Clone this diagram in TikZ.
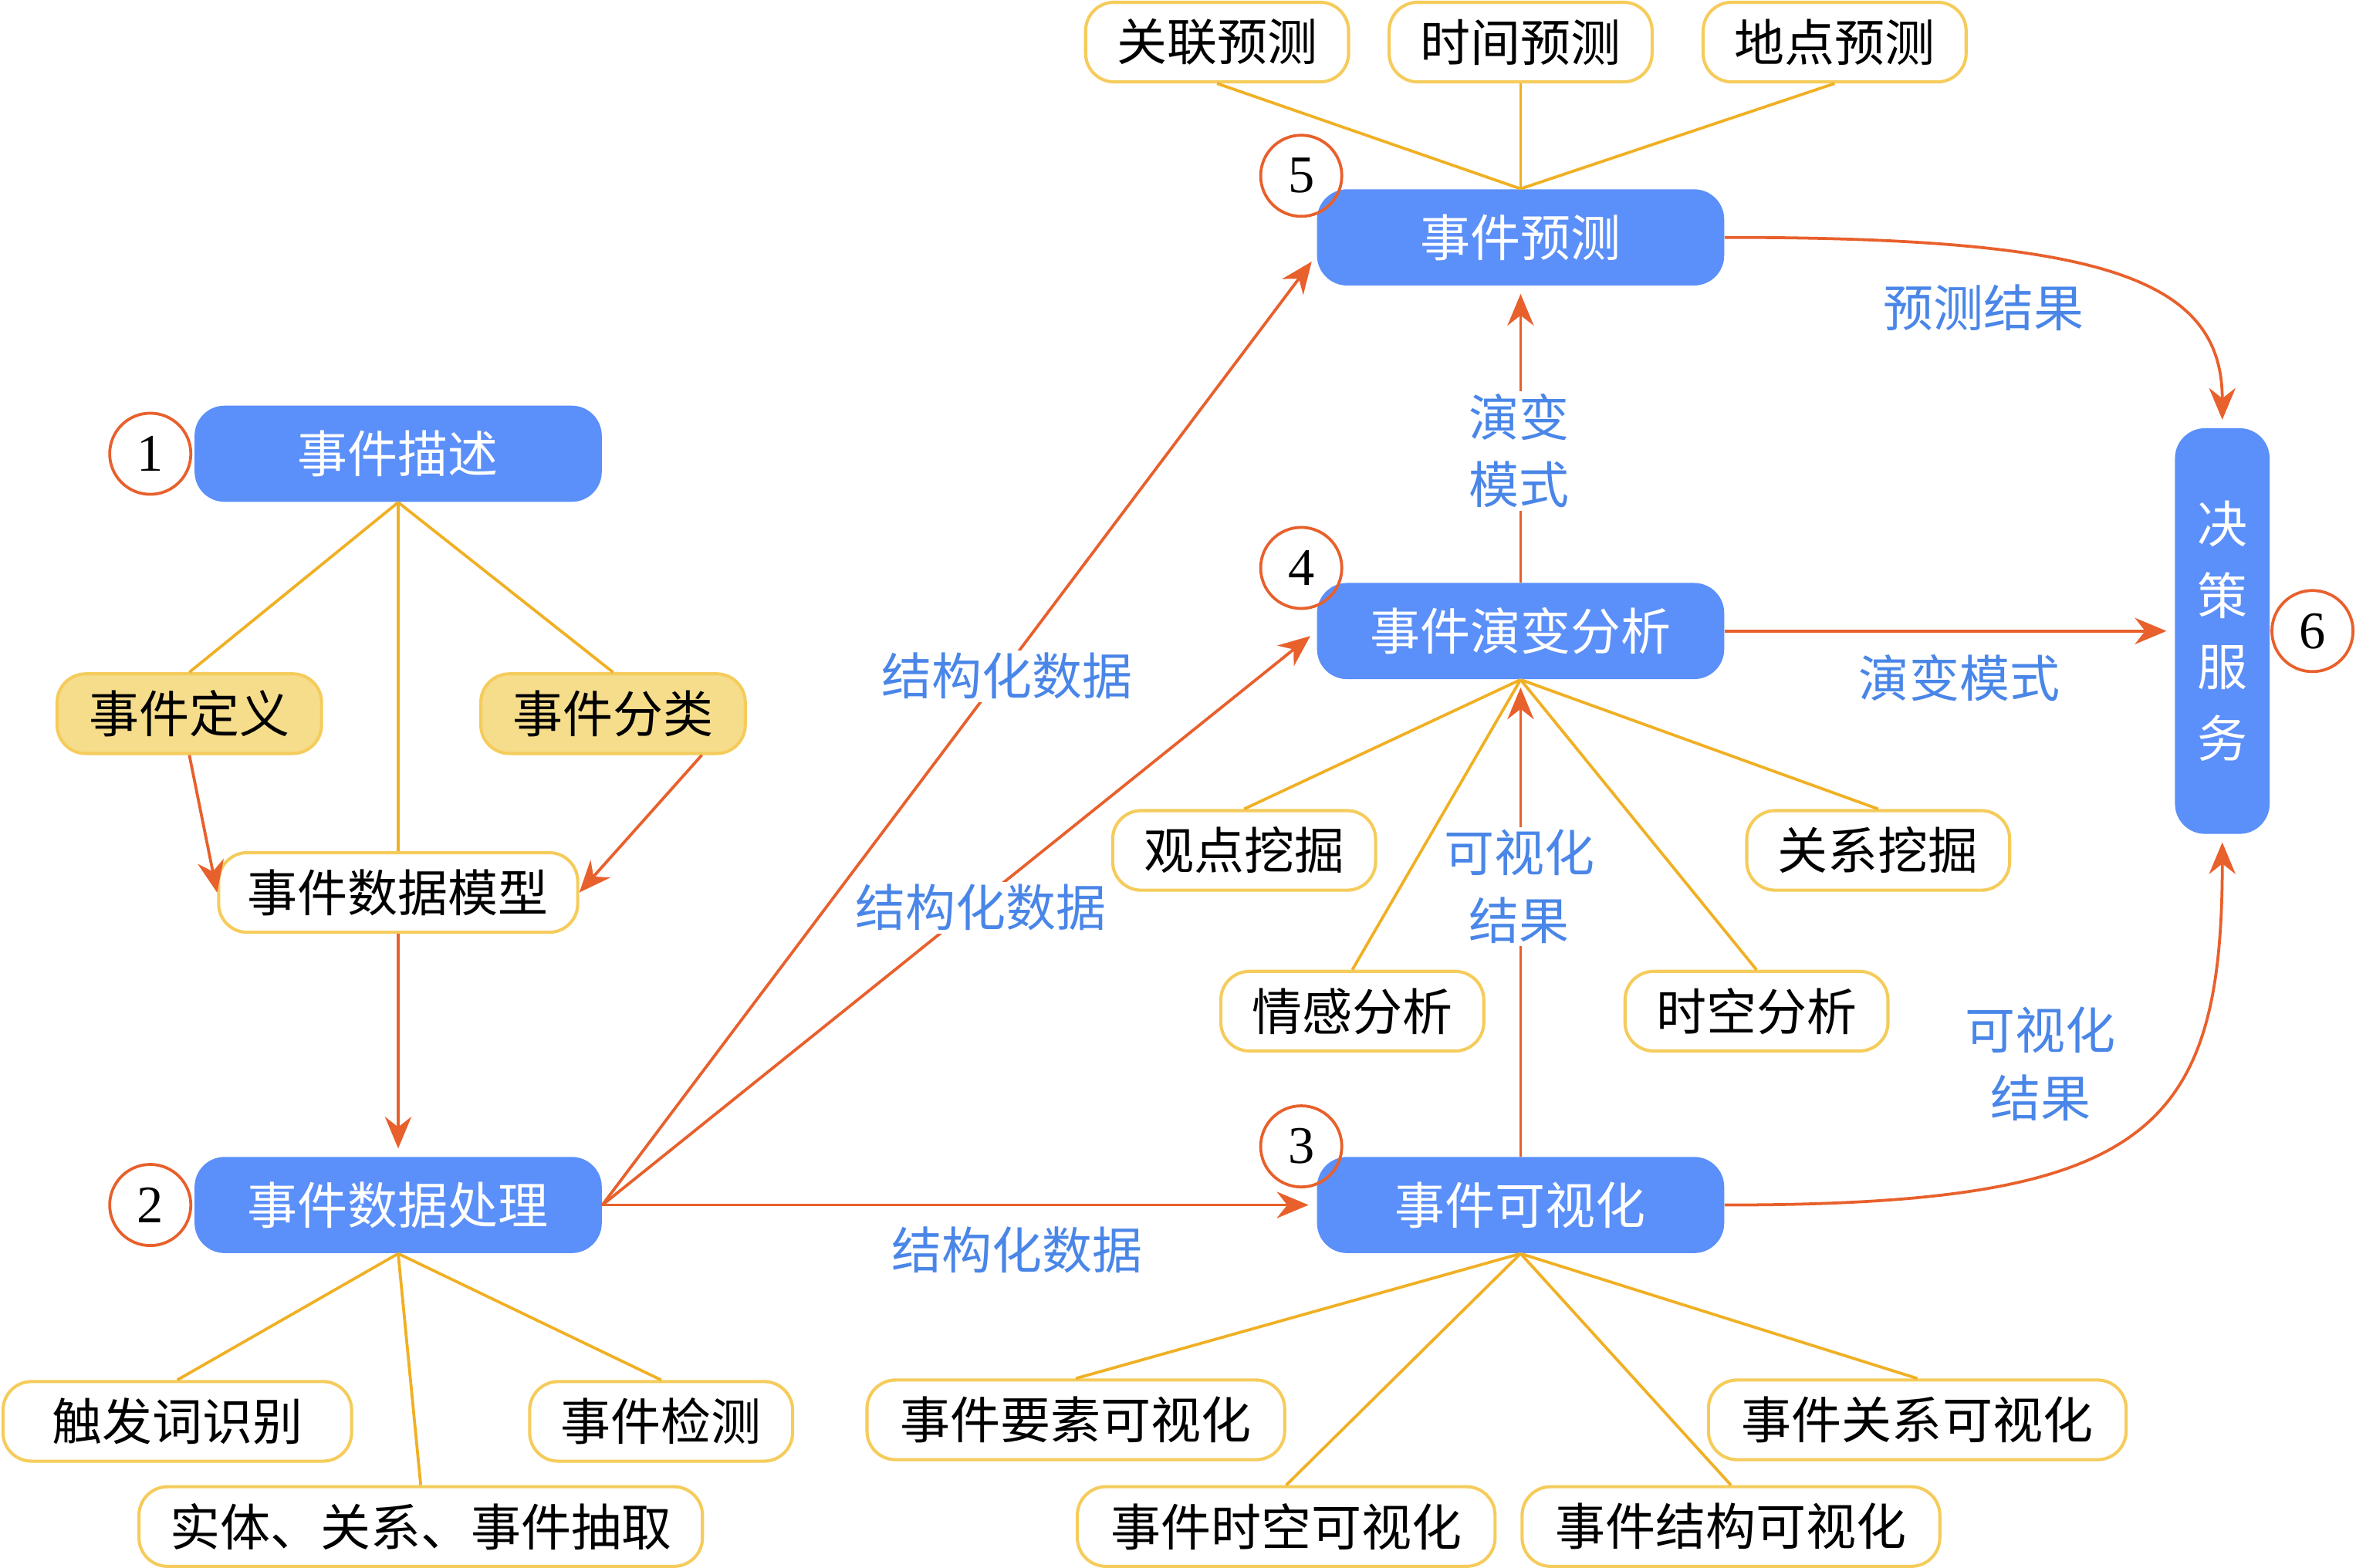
\documentclass[tikz,border=0pt]{standalone}
\usepackage{fontspec}
\setmainfont{Liberation Serif}
\newfontfamily\cjk{Noto Sans CJK SC}
\usepackage{tikz}
\usetikzlibrary{arrows.meta}
\definecolor{boxblue}{HTML}{5B8FF9}
\definecolor{txtblue}{HTML}{4A86E8}
\definecolor{arrred}{HTML}{E8602C}
\definecolor{linyel}{HTML}{F0B024}
\definecolor{boxyel}{HTML}{F5CC5C}
\definecolor{fillyel}{HTML}{F6DD8C}

\begin{document}
\begin{tikzpicture}[
  mainbox/.style={rounded corners=0.4cm, fill=boxblue, text=white, font=\cjk\fontsize{19}{26}\selectfont, minimum width=5.42cm, minimum height=1.28cm, inner sep=0},
  leafbox/.style={rounded corners=0.38cm, draw=boxyel, line width=1.2pt, fill=white, font=\cjk\fontsize{19}{26}\selectfont, minimum height=1.06cm, inner sep=0},
  keybox/.style={leafbox, fill=fillyel},
  numcirc/.style={circle, draw=arrred, line width=1.1pt, minimum size=1.08cm, inner sep=0, font=\fontsize{20}{24}\selectfont},
  flowlabel/.style={text=txtblue, fill=white, align=center, inner sep=1pt, font=\cjk\fontsize{19}{25.6}\selectfont},
  flowarrow/.style={draw=arrred, line width=1.1pt, -{Stealth[length=12pt,width=10pt]}, shorten >=3pt},
  branch/.style={draw=linyel, line width=1.1pt}
]
\useasboundingbox (0,0) rectangle (31.36,-20.87);

\node[mainbox] (desc) at (5.30,-6.04) {事件描述};
\node[keybox, minimum width=3.52cm] (def) at (2.52,-9.50) {事件定义}; \node[keybox, minimum width=3.52cm] (cls) at (8.16,-9.50) {事件分类};
\node[leafbox, minimum width=4.78cm] (model) at (5.30,-11.88) {事件数据模型};
\node[mainbox] (proc) at (5.30,-16.04) {事件数据处理};
\node[leafbox, minimum width=4.64cm] (trig) at (2.36,-18.92) {触发词识别}; \node[leafbox, minimum width=3.5cm] (det) at (8.80,-18.92) {事件检测};
\node[leafbox, minimum width=7.5cm] (ext) at (5.60,-20.32) {实体、关系、事件抽取};

\node[mainbox] (pred) at (20.24,-3.16) {事件预测};
\node[leafbox, minimum width=3.5cm] (passoc) at (16.20,-0.56) {关联预测}; \node[leafbox, minimum width=3.5cm] (ptime) at (20.24,-0.56) {时间预测}; \node[leafbox, minimum width=3.5cm] (pplace) at (24.42,-0.56) {地点预测};
\node[mainbox] (evo) at (20.24,-8.40) {事件演变分析};
\node[leafbox, minimum width=3.5cm] (opin) at (16.56,-11.32) {观点挖掘}; \node[leafbox, minimum width=3.5cm] (relm) at (25.00,-11.32) {关系挖掘};
\node[leafbox, minimum width=3.5cm] (senti) at (18.00,-13.46) {情感分析}; \node[leafbox, minimum width=3.5cm] (stan) at (23.38,-13.46) {时空分析};
\node[mainbox] (vis) at (20.24,-16.04) {事件可视化};
\node[leafbox, minimum width=5.56cm] (velem) at (14.32,-18.90) {事件要素可视化}; \node[leafbox, minimum width=5.56cm] (vrel) at (25.52,-18.90) {事件关系可视化};
\node[leafbox, minimum width=5.56cm] (vst) at (17.12,-20.32) {事件时空可视化}; \node[leafbox, minimum width=5.56cm] (vstruct) at (23.04,-20.32) {事件结构可视化};
\node[mainbox, minimum width=1.26cm, minimum height=5.4cm, align=center, font=\cjk\fontsize{19}{27}\selectfont] (dec) at (29.58,-8.40) {\raisebox{-0.2cm}{}决\\策\\服\\务};

\draw[flowarrow, shorten >=0pt] (def.south) -- (model.west); \draw[flowarrow, shorten >=0pt] (cls.-25) -- (model.east);
\draw[flowarrow] (model.south) -- (proc.north);
\draw[flowarrow] (proc.east) -- (pred.185); \draw[flowarrow] (proc.east) -- (evo.west); \draw[flowarrow] (proc.east) -- (vis.west);
\draw[flowarrow] (vis.north) -- (evo.south); \draw[flowarrow] (evo.north) -- (pred.south);
\draw[flowarrow] (evo.east) -- (dec.west);
\draw[flowarrow] (pred.east) .. controls +(5,0) and +(0,2) .. (dec.north);
\draw[flowarrow] (vis.east) .. controls +(5.6,0) and +(0,-4) .. (dec.south);

\node[flowlabel] (sdata1) at (13.40,-9.00) {结构化数据}; \node[flowlabel] (sdata2) at (13.06,-12.08) {结构化数据}; \node[flowlabel] (sdata3) at (13.54,-16.64) {结构化数据};
\node[flowlabel] (presult) at (26.40,-4.10) {预测结果}; \node[flowlabel] (epat1) at (26.08,-9.02) {演变模式};
\node[flowlabel] (epat2) at (20.22,-6.00) {演变\\模式};
\node[flowlabel] (vresult1) at (20.22,-11.80) {可视化\\结果}; \node[flowlabel] (vresult2) at (27.16,-14.16) {可视化\\结果};

\draw[branch] (desc.south) -- (def.north); \draw[branch] (desc.south) -- (cls.north); \draw[branch] (desc.south) -- (model.north);
\draw[branch] (proc.south) -- (trig.north); \draw[branch] (proc.south) -- (ext.north); \draw[branch] (proc.south) -- (det.north);
\draw[branch] (pred.north) -- (passoc.south); \draw[branch] (pred.north) -- (ptime.south); \draw[branch] (pred.north) -- (pplace.south);
\draw[branch] (evo.south) -- (opin.north); \draw[branch] (evo.south) -- (senti.north); \draw[branch] (evo.south) -- (stan.north); \draw[branch] (evo.south) -- (relm.north);
\draw[branch] (vis.south) -- (velem.north); \draw[branch] (vis.south) -- (vst.north); \draw[branch] (vis.south) -- (vstruct.north); \draw[branch] (vis.south) -- (vrel.north);

\node[numcirc] (n1) at (2.00,-6.04) {1}; \node[numcirc] (n2) at (2.00,-16.04) {2};
\node[numcirc] (n3) at (17.32,-15.26) {3}; \node[numcirc] (n4) at (17.32,-7.56) {4}; \node[numcirc] (n5) at (17.32,-2.34) {5};
\node[numcirc] (n6) at (30.78,-8.40) {6};

\end{tikzpicture}
\end{document}
